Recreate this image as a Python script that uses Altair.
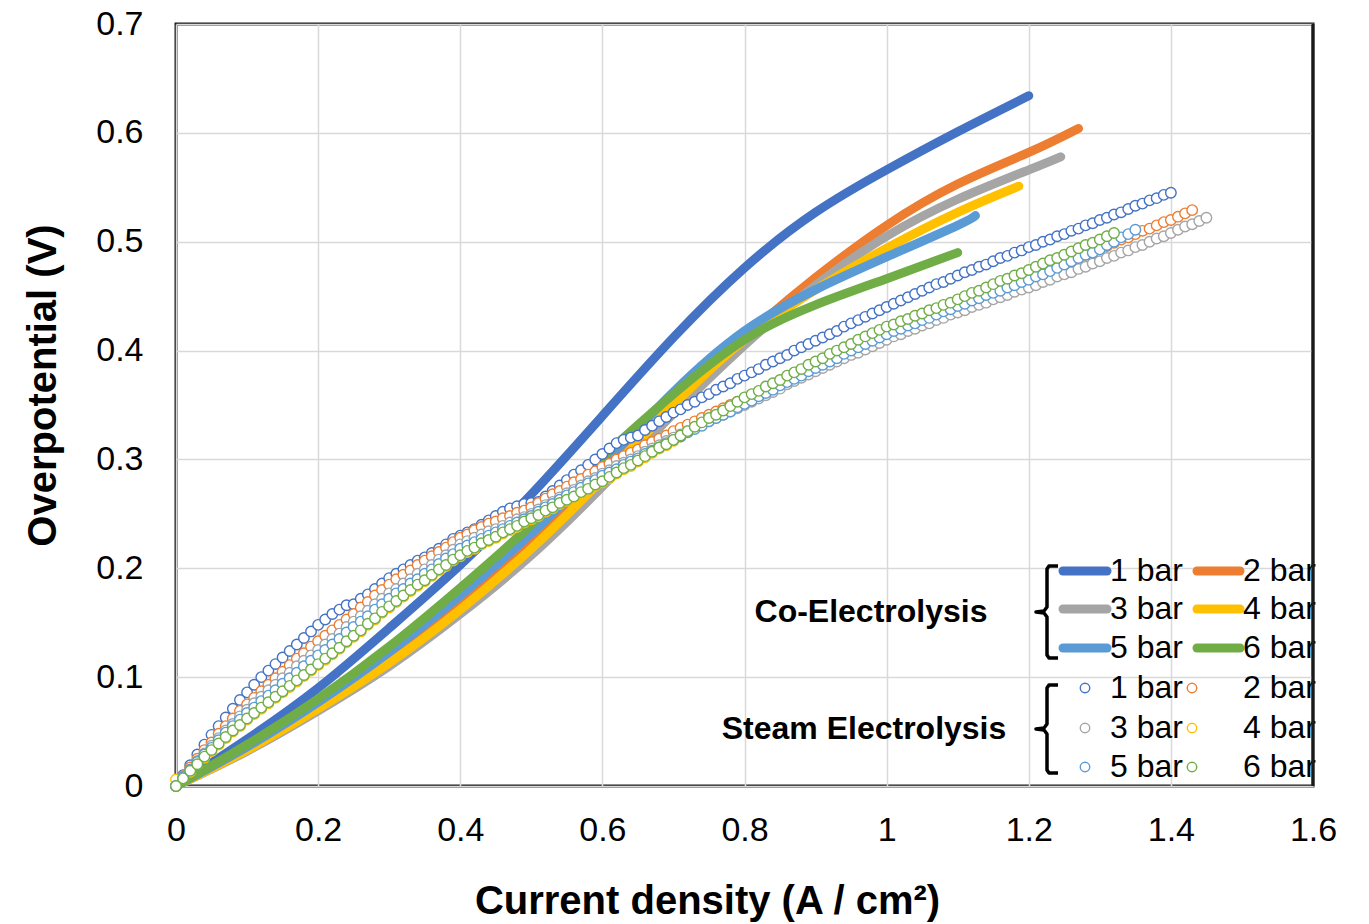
import altair as alt
import pandas as pd

# ---------------------------------------------------------------------------
# Series definitions
# ---------------------------------------------------------------------------
SERIES = ["1 bar", "2 bar", "3 bar", "4 bar", "5 bar", "6 bar"]
COLORS = ["#4472C4", "#ED7D31", "#A5A5A5", "#FFC000", "#5B9BD5", "#70AD47"]

# Co-electrolysis: current density (A/cm2) and overpotential (V), smooth fits
co_j_1 = [0, 0.1, 0.2, 0.3, 0.4, 0.5, 0.6, 0.7, 0.8, 0.9, 1.0, 1.1, 1.2]
co_v_1 = [0, 0.043, 0.09, 0.145, 0.203, 0.268, 0.34, 0.412, 0.476, 0.527, 0.566, 0.601, 0.634]
co_j_2 = [0, 0.1, 0.2, 0.3, 0.4, 0.5, 0.6, 0.7, 0.8, 0.9, 1.0, 1.1, 1.2, 1.27]
co_v_2 = [0, 0.035, 0.074, 0.118, 0.167, 0.222, 0.285, 0.35, 0.412, 0.467, 0.515, 0.553, 0.582, 0.604]
co_j_3 = [0, 0.1, 0.2, 0.3, 0.4, 0.5, 0.6, 0.7, 0.8, 0.9, 1.0, 1.1, 1.2, 1.245]
co_v_3 = [0, 0.032, 0.069, 0.11, 0.158, 0.212, 0.275, 0.342, 0.405, 0.46, 0.505, 0.539, 0.566, 0.578]
co_j_4 = [0, 0.1, 0.2, 0.3, 0.4, 0.5, 0.6, 0.7, 0.8, 0.9, 1.0, 1.1, 1.186]
co_v_4 = [0, 0.033, 0.071, 0.113, 0.162, 0.218, 0.282, 0.35, 0.41, 0.456, 0.494, 0.527, 0.551]
co_j_5 = [0, 0.1, 0.2, 0.3, 0.4, 0.5, 0.6, 0.7, 0.8, 0.9, 1.0, 1.1, 1.125]
co_v_5 = [0, 0.036, 0.077, 0.123, 0.175, 0.232, 0.295, 0.362, 0.418, 0.456, 0.486, 0.515, 0.524]
co_j_6 = [0, 0.1, 0.2, 0.3, 0.4, 0.5, 0.6, 0.7, 0.8, 0.9, 1.0, 1.1]
co_v_6 = [0, 0.038, 0.08, 0.128, 0.182, 0.24, 0.302, 0.36, 0.41, 0.442, 0.466, 0.49]

# Steam electrolysis: measured overpotential in mV, one sample per 10 mA/cm2 step
SWEEP_STEP = 0.01
st_mv_1 = [
    0, 10, 19, 29, 38, 47, 55, 63, 71, 79,
    86, 93, 100, 106, 112, 118, 124, 130, 136, 142,
    148, 153, 158, 162, 166, 167, 172, 176, 181, 186,
    191, 195, 199, 203, 207, 210, 214, 218, 222, 227,
    230, 233, 236, 240, 244, 248, 252, 255, 257, 259,
    260, 261, 266, 271, 276, 281, 286, 290, 295, 300,
    305, 310, 315, 318, 320, 322, 327, 331, 335, 339,
    343, 346, 350, 353, 357, 360, 364, 367, 370, 374,
    377, 380, 383, 387, 390, 393, 396, 400, 403, 406,
    409, 412, 415, 418, 422, 425, 428, 431, 434, 437,
    440, 443, 446, 449, 452, 455, 458, 461, 463, 466,
    469, 472, 474, 477, 479, 482, 485, 487, 490, 492,
    495, 497, 500, 502, 505, 507, 510, 512, 515, 517,
    520, 522, 525, 527, 530, 533, 535, 538, 540, 543,
    545,
]
st_mv_2 = [
    0, 9, 17, 25, 33, 40, 48, 55, 62, 69,
    75, 81, 87, 93, 99, 105, 111, 117, 122, 128,
    133, 138, 143, 148, 153, 158, 164, 169, 175, 180,
    185, 190, 194, 198, 203, 207, 211, 215, 219, 224,
    228, 231, 235, 238, 241, 243, 246, 248, 251, 253,
    256, 260, 264, 268, 271, 275, 279, 282, 286, 289,
    293, 296, 300, 303, 306, 309, 313, 316, 319, 322,
    326, 329, 332, 335, 338, 341, 344, 347, 350, 353,
    356, 359, 362, 366, 369, 372, 375, 378, 381, 385,
    388, 391, 394, 397, 400, 403, 406, 409, 412, 415,
    418, 421, 423, 426, 428, 431, 434, 436, 439, 441,
    444, 446, 449, 451, 454, 456, 458, 461, 463, 466,
    468, 471, 473, 476, 478, 481, 483, 486, 488, 491,
    494, 496, 499, 502, 504, 507, 510, 512, 515, 518,
    520, 523, 526, 529,
]
st_mv_3 = [
    0, 8, 15, 23, 30, 37, 44, 51, 57, 64,
    70, 76, 82, 88, 93, 99, 104, 110, 115, 120,
    125, 130, 135, 140, 146, 151, 156, 161, 167, 172,
    177, 181, 186, 190, 195, 199, 203, 208, 212, 217,
    222, 225, 228, 231, 234, 236, 239, 242, 245, 247,
    250, 254, 258, 261, 265, 269, 272, 276, 280, 283,
    287, 290, 294, 297, 300, 303, 307, 310, 313, 317,
    320, 323, 326, 329, 332, 335, 338, 341, 344, 347,
    350, 353, 356, 359, 362, 365, 369, 372, 375, 378,
    381, 384, 387, 390, 393, 396, 398, 401, 404, 407,
    410, 413, 415, 418, 420, 423, 425, 428, 430, 433,
    435, 437, 440, 442, 444, 447, 449, 451, 454, 456,
    458, 460, 463, 465, 468, 470, 472, 475, 477, 480,
    482, 485, 487, 490, 492, 495, 497, 500, 503, 505,
    508, 511, 514, 516, 519, 522,
]
st_mv_4 = [
    6, 7, 13, 20, 26, 32, 38, 44, 50, 55,
    61, 66, 71, 76, 81, 86, 91, 96, 101, 106,
    111, 116, 121, 126, 132, 137, 142, 148, 153, 159,
    164, 169, 174, 179, 184, 188, 193, 198, 202, 207,
    211, 215, 218, 222, 225, 228, 232, 235, 238, 242,
    245, 248, 252, 255, 259, 262, 265, 269, 272, 276,
    279, 283, 287, 291, 294, 298, 302, 306, 310, 313,
    317, 321, 325, 329, 333, 337, 340, 344, 348, 352,
    356, 359, 362, 366, 369, 372, 376, 379, 382, 386,
    389, 392, 396, 399, 402, 405, 409, 412, 415, 418,
    421, 423, 426, 428, 431, 433, 436, 438, 441, 443,
    446, 449, 452, 454, 457, 460, 463, 465, 468, 470,
    473, 476, 479, 482, 484, 487, 490, 493, 496, 498,
    501,
]
st_mv_5 = [
    0, 8, 15, 22, 29, 35, 42, 49, 55, 61,
    67, 72, 78, 83, 88, 94, 99, 104, 110, 115,
    120, 125, 130, 135, 141, 146, 151, 156, 162, 167,
    172, 177, 181, 186, 190, 195, 199, 204, 209, 213,
    218, 221, 224, 227, 230, 233, 236, 239, 242, 245,
    248, 252, 256, 259, 263, 267, 270, 274, 278, 281,
    285, 288, 291, 295, 298, 301, 305, 308, 311, 315,
    318, 321, 325, 328, 331, 335, 338, 341, 344, 348,
    351, 354, 358, 361, 364, 368, 371, 374, 377, 381,
    384, 387, 390, 393, 397, 400, 403, 406, 409, 412,
    415, 418, 420, 423, 425, 428, 430, 433, 436, 438,
    441, 443, 446, 448, 451, 453, 455, 458, 460, 463,
    465, 468, 470, 473, 476, 479, 482, 485, 488, 490,
    493, 497, 500, 504, 507, 511,
]
st_mv_6 = [
    0, 7, 14, 20, 27, 33, 39, 45, 51, 56,
    62, 67, 72, 77, 82, 87, 92, 97, 102, 107,
    112, 117, 122, 127, 133, 138, 143, 149, 154, 160,
    165, 170, 175, 180, 185, 189, 194, 199, 203, 208,
    212, 216, 219, 223, 226, 229, 233, 236, 239, 243,
    246, 249, 253, 256, 260, 263, 266, 270, 273, 277,
    280, 284, 288, 292, 295, 299, 303, 307, 311, 314,
    318, 322, 326, 330, 334, 338, 341, 345, 349, 353,
    357, 360, 363, 367, 370, 373, 377, 380, 383, 387,
    390, 393, 397, 400, 403, 406, 410, 413, 416, 419,
    422, 424, 427, 429, 432, 434, 437, 439, 442, 444,
    447, 450, 453, 455, 458, 461, 464, 466, 469, 471,
    474, 477, 480, 483, 485, 488, 491, 494, 497, 499,
    502, 505, 508,
]

co_j = [co_j_1, co_j_2, co_j_3, co_j_4, co_j_5, co_j_6]
co_v = [co_v_1, co_v_2, co_v_3, co_v_4, co_v_5, co_v_6]
st_mv = [st_mv_1, st_mv_2, st_mv_3, st_mv_4, st_mv_5, st_mv_6]

X_TICKS = [0, 0.2, 0.4, 0.6, 0.8, 1.0, 1.2, 1.4, 1.6]
Y_TICKS = [0, 0.1, 0.2, 0.3, 0.4, 0.5, 0.6, 0.7]

# ---------------------------------------------------------------------------
# Layout
# ---------------------------------------------------------------------------
W, H = 1137, 762
FONT = "Liberation Sans"
FRAME = "#1a1a1a"

xscale = alt.Scale(domain=[0, 1.6], nice=False, zero=False)
yscale = alt.Scale(domain=[0, 0.7], nice=False, zero=False)

xaxis = alt.Axis(
    values=X_TICKS, format="~g", title="Current density (A / cm²)",
    grid=True, gridColor="#D9D9D9", gridWidth=1.5, domain=False, ticks=False,
    labelFont=FONT, labelFontSize=34, labelColor="#000000", labelPadding=27,
    labelFlush=False,
    titleFont=FONT, titleFontSize=40, titleFontWeight="bold", titleColor="#000000",
    titleX=531, titleY=127, titleBaseline="alphabetic", titleAlign="center",
)
yaxis = alt.Axis(
    values=Y_TICKS, format="~g", title="Overpotential (V)",
    grid=True, gridColor="#D9D9D9", gridWidth=1.5, domain=False, ticks=False,
    labelFont=FONT, labelFontSize=34, labelColor="#000000", labelPadding=33,
    labelFlush=False,
    titleFont=FONT, titleFontSize=40, titleFontWeight="bold", titleColor="#000000",
    titleX=-113, titleY=361, titleAlign="center", titleBaseline="bottom", titleAngle=270,
)

X = alt.X("j:Q", scale=xscale, axis=xaxis)
Y = alt.Y("v:Q", scale=yscale, axis=yaxis)

layers = []

# Co-electrolysis curves (thick smooth lines)
for name, color, js, vs in zip(SERIES, COLORS, co_j, co_v):
    df = pd.DataFrame({"j": js, "v": vs, "series": name})
    layers.append(
        alt.Chart(df).mark_line(
            color=color, strokeWidth=9, strokeCap="round", interpolate="natural"
        ).encode(x=X, y=Y)
    )

# Steam electrolysis measurements (hollow circle markers)
MARKER = dict(shape="circle", filled=True, fill="white", fillOpacity=1,
              strokeWidth=1.4, size=110, opacity=1)
for name, color, mv in zip(SERIES, COLORS, st_mv):
    df = pd.DataFrame({
        "j": [round(i * SWEEP_STEP, 2) for i in range(len(mv))],
        "v": [m / 1000 for m in mv],
        "series": name,
    })
    layers.append(alt.Chart(df).mark_point(stroke=color, **MARKER).encode(x=X, y=Y))

# ---------------------------------------------------------------------------
# Legend (drawn in pixel space inside the plot area)
# ---------------------------------------------------------------------------
PX = lambda f: alt.X(f, scale=None, axis=None)
PY = lambda f: alt.Y(f, scale=None, axis=None)

leg_rows_co = [547, 585, 624]
leg_rows_st = [664, 704, 743]
col_line = [(887, 931), (1021, 1064)]
col_text = [934, 1067]
col_dot = [909, 1016]

line_rows, dot_rows, text_rows = [], [], []
for k, (name, color) in enumerate(zip(SERIES, COLORS)):
    r, c = divmod(k, 2)
    line_rows.append({"x": col_line[c][0], "x2": col_line[c][1], "y": leg_rows_co[r], "color": color})
    dot_rows.append({"x": col_dot[c], "y": leg_rows_st[r], "color": color})
    text_rows.append({"x": col_text[c], "y": leg_rows_co[r], "label": name})
    text_rows.append({"x": col_text[c], "y": leg_rows_st[r], "label": name})

legend_lines = alt.Chart(pd.DataFrame(line_rows)).mark_rule(
    strokeWidth=9, strokeCap="round"
).encode(x=PX("x:Q"), x2="x2:Q", y=PY("y:Q"), color=alt.Color("color:N", scale=None))

legend_dots = alt.Chart(pd.DataFrame(dot_rows)).mark_point(
    shape="circle", filled=True, fill="white", fillOpacity=1, strokeWidth=1.4, size=90, opacity=1
).encode(x=PX("x:Q"), y=PY("y:Q"), stroke=alt.Stroke("color:N", scale=None))

legend_text = alt.Chart(pd.DataFrame(text_rows)).mark_text(
    font=FONT, fontSize=32, align="left", baseline="middle", color="#000000"
).encode(x=PX("x:Q"), y=PY("y:Q"), text="label:N")

groups = pd.DataFrame({
    "x": [695, 688], "y": [588, 705],
    "label": ["Co-Electrolysis", "Steam Electrolysis"],
})
legend_groups = alt.Chart(groups).mark_text(
    font=FONT, fontSize=32, fontWeight="bold", align="center", baseline="middle", color="#000000"
).encode(x=PX("x:Q"), y=PY("y:Q"), text="label:N")

# Curly braces grouping the two legend blocks
brace_rows = []
for g, (top, mid, bot) in enumerate([(542, 588, 634), (661, 705, 749)]):
    pts = [(882, top), (873, top), (871, top + 3), (871, mid - 5), (868, mid - 1),
           (860, mid), (868, mid + 1), (871, mid + 5), (871, bot - 3), (873, bot), (882, bot)]
    for i, (bx, by) in enumerate(pts):
        brace_rows.append({"x": bx, "y": by, "order": i, "group": g})
legend_braces = alt.Chart(pd.DataFrame(brace_rows)).mark_line(
    color="#000000", strokeWidth=3.5, strokeJoin="round"
).encode(x=PX("x:Q"), y=PY("y:Q"), order="order:Q", detail="group:N")

# Right edge of the frame, on top of the legend text
frame_right = alt.Chart(pd.DataFrame({"a": [0]})).mark_rule(
    color=FRAME, strokeWidth=3
).encode(x=alt.value(W), y=alt.value(0), y2=alt.value(H))

chart = alt.layer(
    *layers, legend_lines, legend_dots, legend_text, legend_groups, legend_braces, frame_right
).properties(
    width=W, height=H, background="white",
    autosize=alt.AutoSizeParams(type="none"),
    padding={"left": 176, "top": 24, "right": 56, "bottom": 138},
).configure_view(
    stroke=FRAME, strokeWidth=3
)

chart.save("out.html", embed_options={"renderer": "svg", "actions": False})
